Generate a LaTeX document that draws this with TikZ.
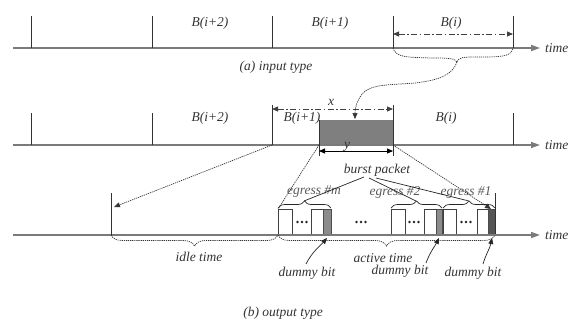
\documentclass[tikz,border=0pt]{standalone}
\usepackage{fontspec}
\setmainfont{Liberation Serif}
\usetikzlibrary{arrows.meta,decorations.pathreplacing}
\definecolor{axisgray}{HTML}{7A7A7A}
\definecolor{boxgray}{HTML}{7F7F7F}
\definecolor{dumgray}{HTML}{8C8C8C}
\definecolor{dumdark}{HTML}{555555}
\definecolor{txt}{HTML}{333333}
\begin{document}
\begin{tikzpicture}[x=1pt,y=-1pt,
  lbl/.style={font=\fontsize{13.5}{14}\selectfont\itshape,text=txt,inner sep=0pt},
  axisline/.style={draw=axisgray,line width=1.4pt,-{Triangle[length=9pt,width=6pt]}},
  tick/.style={draw=black!80,line width=0.8pt},
  dashdot/.style={draw=black!75,line width=0.8pt,dash pattern=on 6pt off 2.5pt on 1.5pt off 2.5pt,{Triangle[length=6pt,width=5pt]}-{Triangle[length=6pt,width=5pt]}},
  dots/.style={draw=black!80,line width=0.7pt,dash pattern=on 1.2pt off 0.9pt},
  tip/.style={-{Triangle[length=6pt,width=5pt]}},
  wbox/.style={draw=black!75,line width=0.7pt,fill=white},
  solidln/.style={draw=black!85,line width=0.7pt},
  ellip/.style={fill=black!85}]
\useasboundingbox (0,0) rectangle (576,322);

% ---------- row 1 ----------
\coordinate (a0) at (13,48);
\coordinate (a1) at (540,48);
\draw[axisline] (a0) -- (a1);
\node[lbl,anchor=west] (t1) at (545,48) {time};
\foreach \x/\n in {31/p1,152/p2,272/p3,393/p4,513/p5}{
  \coordinate (\n) at (\x,48);
  \coordinate (\n t) at (\x,16);
  \draw[tick] (\n t) -- (\n);
}
\node[lbl] (b12) at (210,23) {B(i+2)};
\node[lbl] (b11) at (330,23) {B(i+1)};
\node[lbl] (b10) at (451,23) {B(i)};
\coordinate (da) at (393,34);
\coordinate (db) at (513,34);
\draw[dashdot] (da) -- (db);
\node[lbl] (capa) at (276,67) {(a) input type};

% wavy brace and tail
\coordinate (brt) at (457,62);
\draw[dots] (p4) .. controls (396,58) and (408,57) .. (430,58)
   .. controls (448,58) and (455,58) .. (brt)
   .. controls (459,57) and (462,57) .. (480,57)
   .. controls (505,57) and (511,56) .. (p5);

% ---------- row 2 ----------
\coordinate (r0) at (13,145);
\coordinate (r1) at (540,145);
\fill[boxgray] (319,120) rectangle (393,145);
\draw[axisline] (r0) -- (r1);
\node[lbl,anchor=west] (t2) at (545,145) {time};
\foreach \x/\n/\t/\b in {31/q1/113/145,152/q2/113/145,272/q3/105/145,319/q4/120/156,393/q5/105/156,513/q6/113/145}{
  \coordinate (\n) at (\x,145);
  \coordinate (\n t) at (\x,\t);
  \coordinate (\n b) at (\x,\b);
  \draw[tick] (\n t) -- (\n b);
}
\node[lbl] (b22) at (210,118) {B(i+2)};
\node[lbl] (b21) at (302,118) {B(i+1)};
\node[lbl] (b20) at (446,118) {B(i)};
\coordinate (xa) at (272,109);
\coordinate (xb) at (393,109);
\draw[dashdot] (xa) -- (xb);
\node[lbl] (xl) at (331,102) {x};
\coordinate (ya) at (319,151);
\coordinate (yb) at (393,151);
\draw[line width=0.9pt,{Triangle[length=6pt,width=5pt]}-{Triangle[length=6pt,width=5pt]}] (ya) -- (yb);
\node[lbl] (yl) at (347,147) {y};
\coordinate (gbx) at (355,119);
\draw[dots,tip] (brt) .. controls (452,75) and (440,80) .. (415,83)
   .. controls (390,85) and (372,84) .. (363,93)
   .. controls (357,100) and (355,108) .. (gbx);

\node[lbl] (bp) at (377,170) {burst packet};

% ---------- row 3 ----------
\coordinate (s0) at (13,235);
\coordinate (s1) at (540,235);
\node[lbl,anchor=west] (t3) at (545,235) {time};
\coordinate (it) at (111,193);
\coordinate (ib) at (111,235);

% group m
\draw[wbox] (278,235) rectangle (292,209);
\draw[wbox] (311,235) rectangle (323,209);
\draw[line width=0.6pt,draw=black!70,fill=dumgray] (323,235) rectangle (331,209);
% group 2
\draw[wbox] (391,235) rectangle (405,209);
\draw[wbox] (424,235) rectangle (436,209);
\draw[line width=0.6pt,draw=black!70,fill=dumgray] (436,235) rectangle (442,209);
% group 1
\draw[wbox] (443,235) rectangle (456,209);
\draw[wbox] (477,235) rectangle (488,209);
\draw[line width=0.6pt,draw=black!70,fill=dumdark] (488,235) rectangle (495,209);
\coordinate (ot) at (495,193);
\coordinate (ob) at (495,235);
\draw[tick] (ot) -- (ob);
\draw[axisline] (s0) -- (s1);
\draw[tick] (it) -- (ib);

\foreach \x/\n in {302/d1,361/d2,414/d3,466/d4}{
  \coordinate (\n) at (\x,222);
  \fill[ellip] ([xshift=-4.5pt]\n) circle (1.4pt);
  \fill[ellip] (\n) circle (1.4pt);
  \fill[ellip] ([xshift=4.5pt]\n) circle (1.4pt);
}

% group braces
\coordinate (gm0) at (278,208); \coordinate (gm1) at (331,208);
\coordinate (g20) at (391,208); \coordinate (g21) at (442,208);
\coordinate (g10) at (443,208); \coordinate (g11) at (495,208);
\draw[solidln,decorate,decoration={brace,amplitude=7pt}] (gm0) -- (gm1);
\draw[solidln,decorate,decoration={brace,amplitude=7pt}] (g20) -- (g21);
\draw[solidln,decorate,decoration={brace,amplitude=7pt}] (g10) -- (g11);
\coordinate (gmt) at (304,201);
\coordinate (g2t) at (416,201);
\coordinate (g1t) at (469,201);

\node[lbl,text=black!65] (em) at (314,192) {egress \#m};
\node[lbl,text=black!65] (e2) at (395,192) {egress \#2};
\node[lbl,text=black!65] (e1) at (466,192) {egress \#1};

\coordinate (bp1) at (364,177);
\coordinate (bp2) at (369,178);
\coordinate (bp3) at (376,178);
\draw[solidln] (bp1) -- (gmt);
\draw[solidln] (bp2) -- (g2t);
\draw[solidln] (bp3) -- (g1t);

% dotted projections
\coordinate (ia) at (114,207);
\coordinate (mb) at (278,209);
\coordinate (oa) at (491,209);
\draw[dots,tip] (q3) -- (ia);
\draw[dots] (q4) -- (mb);
\draw[dots,tip] (q5) -- (oa);

% idle/active braces
\coordinate (ab) at (278,235);
\draw[dots,decorate,decoration={brace,mirror,amplitude=11pt}] (ib) -- (ab);
\draw[dots,decorate,decoration={brace,mirror,amplitude=11pt}] (ab) -- (ob);
\node[lbl] (idle) at (199,257) {idle time};
\node[lbl] (act) at (383,258) {active time};

% dummy bits
\node[lbl] (db1) at (307,273) {dummy bit};
\node[lbl] (db2) at (400,271) {dummy bit};
\node[lbl] (db3) at (473,273) {dummy bit};
\coordinate (dt1) at (327,238);
\coordinate (dt2) at (439,238);
\coordinate (dt3) at (492,238);
\draw[solidln,tip] (306,264) .. controls (312,252) and (320,246) .. (dt1);
\draw[solidln,tip] (426,263) .. controls (430,252) and (435,246) .. (dt2);
\draw[solidln,tip] (483,264) .. controls (486,254) and (490,248) .. (dt3);

\node[lbl] (capb) at (283,313) {(b) output type};
\end{tikzpicture}
\end{document}
